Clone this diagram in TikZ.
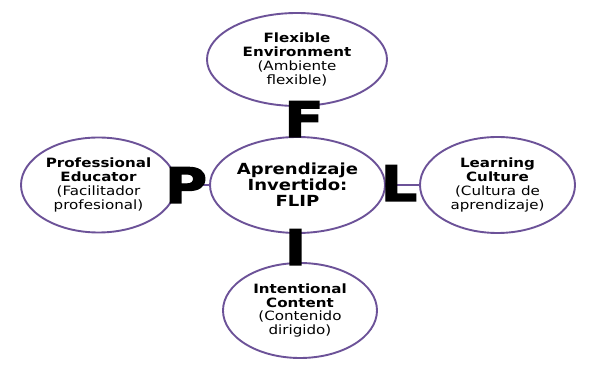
\documentclass[tikz,border=0pt]{standalone}
\usepackage{fontspec}
\setmainfont{DejaVu Sans}[FakeStretch=1.18]
\newfontfamily\letterfont{DejaVu Sans Bold}[FakeStretch=1.18, FakeBold=2.5]
\usetikzlibrary{shapes.geometric}
\definecolor{ringpurple}{RGB}{108,82,152}
\tikzset{
  ring/.style={ellipse, draw=ringpurple, line width=1.9pt, fill=white, inner sep=0pt, align=center,
    font=\fontsize{12.8}{13.8}\selectfont},
  hub/.style={ring, font=\fontsize{15.3}{16}\selectfont\bfseries},
  conn/.style={draw=ringpurple, line width=1.6pt},
  bigletter/.style={anchor=base, inner sep=0pt, text=black, font=\fontsize{49}{49}\selectfont\letterfont}
}
\begin{document}
\begin{tikzpicture}[x=1pt,y=-1pt]
\useasboundingbox[fill=white] (0,0) rectangle (598,371);
\node[hub, minimum width=175, minimum height=96] (c) at (297.5,185) {Aprendizaje\\Invertido:\\FLIP};
\node[ring, minimum width=180, minimum height=93] (t) at (297,59.5) {\textbf{Flexible}\\\textbf{Environment}\\(Ambiente\\flexible)};
\node[ring, minimum width=155, minimum height=95] (l) at (98.5,185) {\textbf{Professional}\\\textbf{Educator}\\(Facilitador\\profesional)};
\node[ring, minimum width=155, minimum height=96] (r) at (497.5,185) {\textbf{Learning}\\\textbf{Culture}\\(Cultura de\\aprendizaje)};
\node[ring, minimum width=154, minimum height=95] (b) at (300,310.5) {\textbf{Intentional}\\\textbf{Content}\\(Contenido\\dirigido)};
\draw[conn] (c) -- (t);
\draw[conn] (c) -- (l);
\draw[conn] (c) -- (r);
\draw[conn] (c) -- (b);
\node[bigletter] (lf) at (304,137) {F};
\node[bigletter] (ll) at (399,201) {L};
\node[bigletter] (lp) at (186,203) {P};
\node[bigletter] (li) at (295.5,265) {I};
\end{tikzpicture}
\end{document}
